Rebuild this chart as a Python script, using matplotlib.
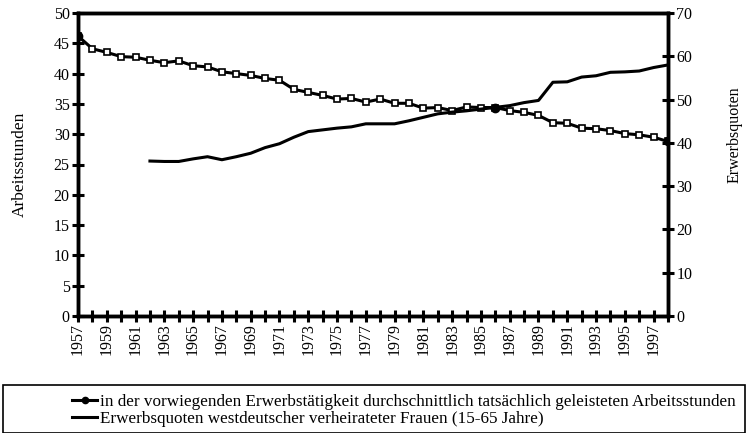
import matplotlib
matplotlib.use("Agg")
import matplotlib.pyplot as plt
from matplotlib.lines import Line2D
from matplotlib.patches import Rectangle

plt.rcParams['font.family'] = ['Liberation Serif', 'DejaVu Serif']

years = list(range(1957, 1999))
hours = [46.2, 44.1, 43.5, 42.8, 42.7, 42.2, 41.8, 42.1, 41.3, 41.1,
         40.3, 40.0, 39.7, 39.2, 38.9, 37.4, 36.9, 36.4, 35.8, 35.9,
         35.3, 35.8, 35.1, 35.1, 34.3, 34.4, 33.9, 34.5, 34.4, 34.4,
         33.9, 33.6, 33.1, 31.9, 31.8, 31.0, 30.9, 30.6, 30.1, 29.9,
         29.5, 28.8]
filled_years = [1957, 1986, 1998]

quote_years = list(range(1962, 1999))
quote = [35.8, 35.7, 35.7, 36.3, 36.8, 36.1, 36.8, 37.6, 38.9, 39.8,
         41.3, 42.6, 43.0, 43.4, 43.7, 44.4, 44.4, 44.4, 45.1, 45.9,
         46.7, 47.1, 47.4, 47.8, 48.2, 48.6, 49.3, 49.8, 54.0, 54.1,
         55.2, 55.5, 56.3, 56.4, 56.6, 57.4, 58.0]

label_hours = "in der vorwiegenden Erwerbstätigkeit durchschnittlich tatsächlich geleisteten Arbeitsstunden"
label_quote = "Erwerbsquoten westdeutscher verheirateter Frauen (15-65 Jahre)"

W, H = 748, 433
fig = plt.figure(figsize=(W / 100, H / 100), dpi=100)
L, R, T, B = 78, 668, 13, 316
ax = fig.add_axes([L / W, 1 - B / H, (R - L) / W, (B - T) / H])
ax2 = ax.twinx()

lw = 2.2
ax.plot(years, hours, color='black', lw=lw, marker='s', ms=4.5,
        mfc='white', mec='black', mew=1.2, zorder=3)
fy = [y for y in years if y in filled_years]
fv = [hours[years.index(y)] for y in fy]
ax.plot(fy, fv, ls='none', marker='o', ms=6, mfc='black', mec='black', zorder=4)
ax2.plot(quote_years, quote, color='black', lw=lw, zorder=3)

ax.set_xlim(1957, 1998)
ax.set_ylim(0, 50)
ax2.set_ylim(0, 70)
ax.set_yticks(range(0, 51, 5))
ax2.set_yticks(range(0, 71, 10))
ax.set_xticks(years)
ax.set_xticklabels([str(y) if y % 2 == 1 else '' for y in years], rotation=90)

for a in (ax, ax2):
    for s in a.spines.values():
        s.set_linewidth(2.5)
    a.tick_params(direction='inout', length=8, width=2.2, labelsize=11.5, pad=2)
ax.tick_params(axis='x', pad=1)

ax.set_ylabel('Arbeitsstunden', fontsize=12.5)
ax.yaxis.set_label_coords(-0.085, 0.5)
ax2.set_ylabel('Erwerbsquoten', fontsize=11.5, rotation=90)
ax2.yaxis.set_label_coords(1.1, 0.6)

# legend box
fig.patches.append(Rectangle((3 / W, 0.5 / H), 742 / W, 48 / H, transform=fig.transFigure,
                             fill=False, edgecolor='black', lw=1.2))
h1 = Line2D([0], [0], color='black', lw=lw, marker='o', ms=4.5, mfc='black')
h2 = Line2D([0], [0], color='black', lw=lw)
fig.legend([h1, h2], [label_hours, label_quote], loc='upper left',
           bbox_to_anchor=(62 / W, 1 - 384 / H), frameon=False, fontsize=12.3,
           handlelength=1.45, handletextpad=0.17, labelspacing=0.05, borderpad=0.1)

fig.savefig('out.png', dpi=100)
